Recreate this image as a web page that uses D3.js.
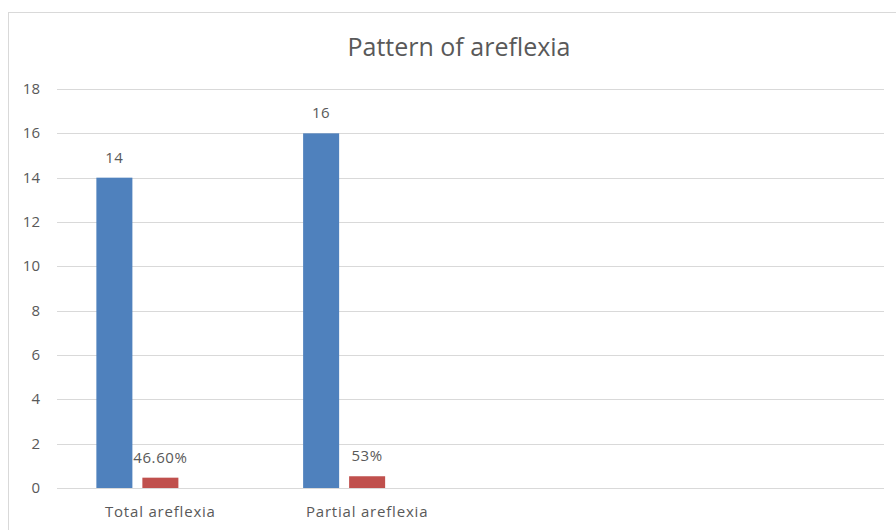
<!DOCTYPE html>
<html>
<head>
<meta charset="utf-8">
<script src="https://cdn.jsdelivr.net/npm/d3@7"></script>
<style>
  body { margin: 0; background: #fff; }
  text { font-family: "Open Sans", "Liberation Sans", sans-serif; fill: #595959; }
</style>
</head>
<body>
<svg width="896" height="530"></svg>
<script>
// chart data
const categories = ["Total areflexia", "Partial areflexia", "", ""];
const seriesNames = ["Count", "Percent", "Series3"];
const counts = [14, 16, null, null];
const percents = [0.466, 0.53, null, null];
const percentLabels = ["46.60%", "53%", "", ""];
const series3 = [null, null, null, null];
const yTicks = [0, 2, 4, 6, 8, 10, 12, 14, 16, 18];

const colors = ["#4F81BD", "#C0504D", "#9BBB59"];

const svg = d3.select("svg");

// chart frame
svg.append("rect")
	.attr("x", 8.5)
	.attr("y", 12.5)
	.attr("width", 1000)
	.attr("height", 1000)
	.attr("fill", "none")
	.attr("stroke", "#d9d9d9");

svg.append("text")
	.attr("x", 459)
	.attr("y", 56)
	.attr("text-anchor", "middle")
	.style("font-size", "25px")
	.text("Pattern of areflexia");

const plotLeft = 57, plotRight = 884, plotTop = 89, plotBottom = 488;

const x0 = d3.scaleBand()
	.domain(d3.range(categories.length))
	.range([plotLeft, plotRight])
	.paddingInner(0)
	.paddingOuter(0);

const x1 = d3.scaleBand()
	.domain(seriesNames)
	.range([0, x0.bandwidth()])
	.paddingInner(0.217)
	.paddingOuter(0.856);

const y = d3.scaleLinear().domain([0, 18]).range([plotBottom, plotTop]);

// gridlines
svg.append("g")
	.selectAll("line")
	.data(yTicks)
	.join("line")
	.attr("x1", plotLeft)
	.attr("x2", plotRight)
	.attr("y1", (d) => Math.round(y(d)) + 0.5)
	.attr("y2", (d) => Math.round(y(d)) + 0.5)
	.attr("stroke", "#d9d9d9")
	.attr("stroke-width", 1);

// y tick labels
svg.append("g")
	.selectAll("text")
	.data(yTicks)
	.join("text")
	.attr("x", 40)
	.attr("y", (d) => y(d) + 5)
	.attr("text-anchor", "end")
	.style("font-size", "15px")
	.text((d) => d);

// category labels
svg.append("g")
	.selectAll("text")
	.data(categories)
	.join("text")
	.attr("x", (d, i) => x0(i) + x0.bandwidth() / 2)
	.attr("y", 517)
	.attr("text-anchor", "middle")
	.style("font-size", "15px")
	.style("letter-spacing", "0.8px")
	.text((d) => d);

const seriesData = [counts, percents, series3];
const rows = [];
seriesData.forEach((vals, s) => {
	vals.forEach((v, i) => {
		if (v != null) rows.push({ s: s, i: i, v: v });
	});
});

svg.append("g")
	.selectAll("rect")
	.data(rows)
	.join("rect")
	.attr("x", (d) => x0(d.i) + x1(seriesNames[d.s]))
	.attr("y", (d) => y(d.v))
	.attr("width", x1.bandwidth())
	.attr("height", (d) => y(0) - y(d.v))
	.attr("fill", (d) => colors[d.s]);

// data labels
svg.append("g")
	.selectAll("text")
	.data(rows)
	.join("text")
	.attr("x", (d) => x0(d.i) + x1(seriesNames[d.s]) + x1.bandwidth() / 2)
	.attr("y", (d) => y(d.v) - 15)
	.attr("text-anchor", "middle")
	.style("font-size", "15px")
	.style("letter-spacing", "0.6px")
	.text((d) => (d.s === 0 ? d.v : percentLabels[d.i]));
</script>
</body>
</html>
